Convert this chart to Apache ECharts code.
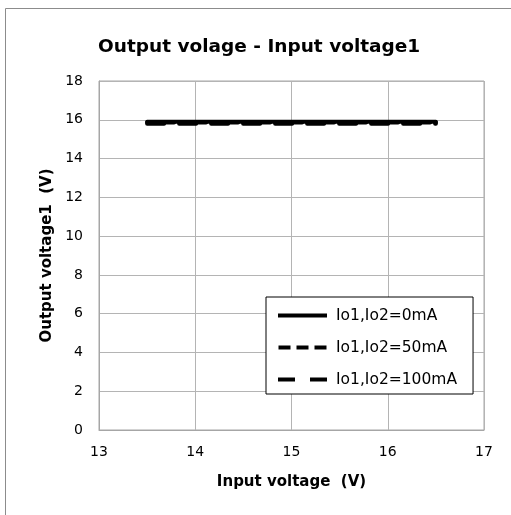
<!DOCTYPE html>
<html>
<head>
<meta charset="utf-8">
<script src="https://cdn.jsdelivr.net/npm/echarts@6/dist/echarts.min.js"></script>
<style>
html,body{margin:0;padding:0;background:#fff;}
#chart{width:511px;height:515px;}
</style>
</head>
<body>
<div id="chart"></div>
<script>
var inputVoltage = [13.5, 14.0, 14.5, 15.0, 15.5, 16.0, 16.5];
var out0mA   = [15.90, 15.90, 15.90, 15.90, 15.90, 15.90, 15.90];
var out50mA  = [15.86, 15.86, 15.86, 15.86, 15.86, 15.86, 15.86];
var out100mA = [15.80, 15.80, 15.80, 15.80, 15.80, 15.80, 15.80];
var seriesNames = ['Io1,Io2=0mA', 'Io1,Io2=50mA', 'Io1,Io2=100mA'];

function pairs(xs, ys) { return xs.map(function (x, i) { return [x, ys[i]]; }); }

var font = 'DejaVu Sans';
var legendIcons = [
  'path://M0,0H49V4H0Z',
  'path://M0,0H12V4H0Z M18,0H30V4H18Z M36,0H48V4H36Z',
  'path://M0,0H17V4H0Z M32,0H49V4H32Z'
];
var chart = echarts.init(document.getElementById('chart'), null, {renderer: 'canvas'});
chart.setOption({
  animation: false,
  backgroundColor: '#fff',
  textStyle: {fontFamily: font},
  title: {
    text: 'Output volage - Input voltage1',
    left: 93, top: 33,
    textStyle: {fontFamily: font, fontSize: 18.5, fontWeight: 'bold', color: '#000'}
  },
  graphic: [{
    type: 'rect', shape: {x: 5.5, y: 8.5, width: 600, height: 600},
    style: {fill: 'none', stroke: '#8c8c8c', lineWidth: 1}, silent: true
  }],
  grid: {left: 99, right: 27, top: 81, bottom: 85, show: true, borderColor: '#a6a6a6', borderWidth: 1},
  xAxis: {
    type: 'value', min: 13, max: 17, interval: 1,
    name: 'Input voltage  (V)', nameLocation: 'middle', nameGap: 45,
    nameTextStyle: {fontFamily: font, fontSize: 15, fontWeight: 'bold', color: '#000'},
    axisLine: {show: true, lineStyle: {color: '#a6a6a6'}},
    axisTick: {show: false},
    axisLabel: {color: '#000', fontSize: 14, margin: 15, fontFamily: font},
    splitLine: {show: true, lineStyle: {color: '#b4b4b4'}}
  },
  yAxis: {
    type: 'value', min: 0, max: 18, interval: 2,
    name: 'Output voltage1  (V)', nameLocation: 'middle', nameGap: 44,
    nameTextStyle: {fontFamily: font, fontSize: 15, fontWeight: 'bold', color: '#000'},
    axisLine: {show: true, lineStyle: {color: '#a6a6a6'}},
    axisTick: {show: false},
    axisLabel: {color: '#000', fontSize: 14, margin: 16, fontFamily: font},
    splitLine: {show: true, lineStyle: {color: '#b4b4b4'}}
  },
  legend: {
    orient: 'vertical', left: 266, top: 297,
    padding: [10, 16, 6, 12],
    backgroundColor: '#fff', borderColor: '#000', borderWidth: 1,
    itemWidth: 49, itemHeight: 4, itemGap: 15,
    textStyle: {fontFamily: font, fontSize: 15.5, lineHeight: 17, color: '#000', padding: [0, 0, 0, 4]},
    data: seriesNames.map(function (n, i) { return {name: n, icon: legendIcons[i], itemStyle: {color: '#000'}}; })
  },
  series: [
    {name: seriesNames[0], type: 'line', symbol: 'none', data: pairs(inputVoltage, out0mA),
     lineStyle: {color: '#000', width: 4, type: 'solid', cap: 'round'}, itemStyle: {color: '#000'}},
    {name: seriesNames[1], type: 'line', symbol: 'none', data: pairs(inputVoltage, out50mA),
     lineStyle: {color: '#000', width: 4, type: [11, 5], cap: 'round'}, itemStyle: {color: '#000'}},
    {name: seriesNames[2], type: 'line', symbol: 'none', data: pairs(inputVoltage, out100mA),
     lineStyle: {color: '#000', width: 4, type: [17, 15], cap: 'round'}, itemStyle: {color: '#000'}}
  ]
});
</script>
</body>
</html>
